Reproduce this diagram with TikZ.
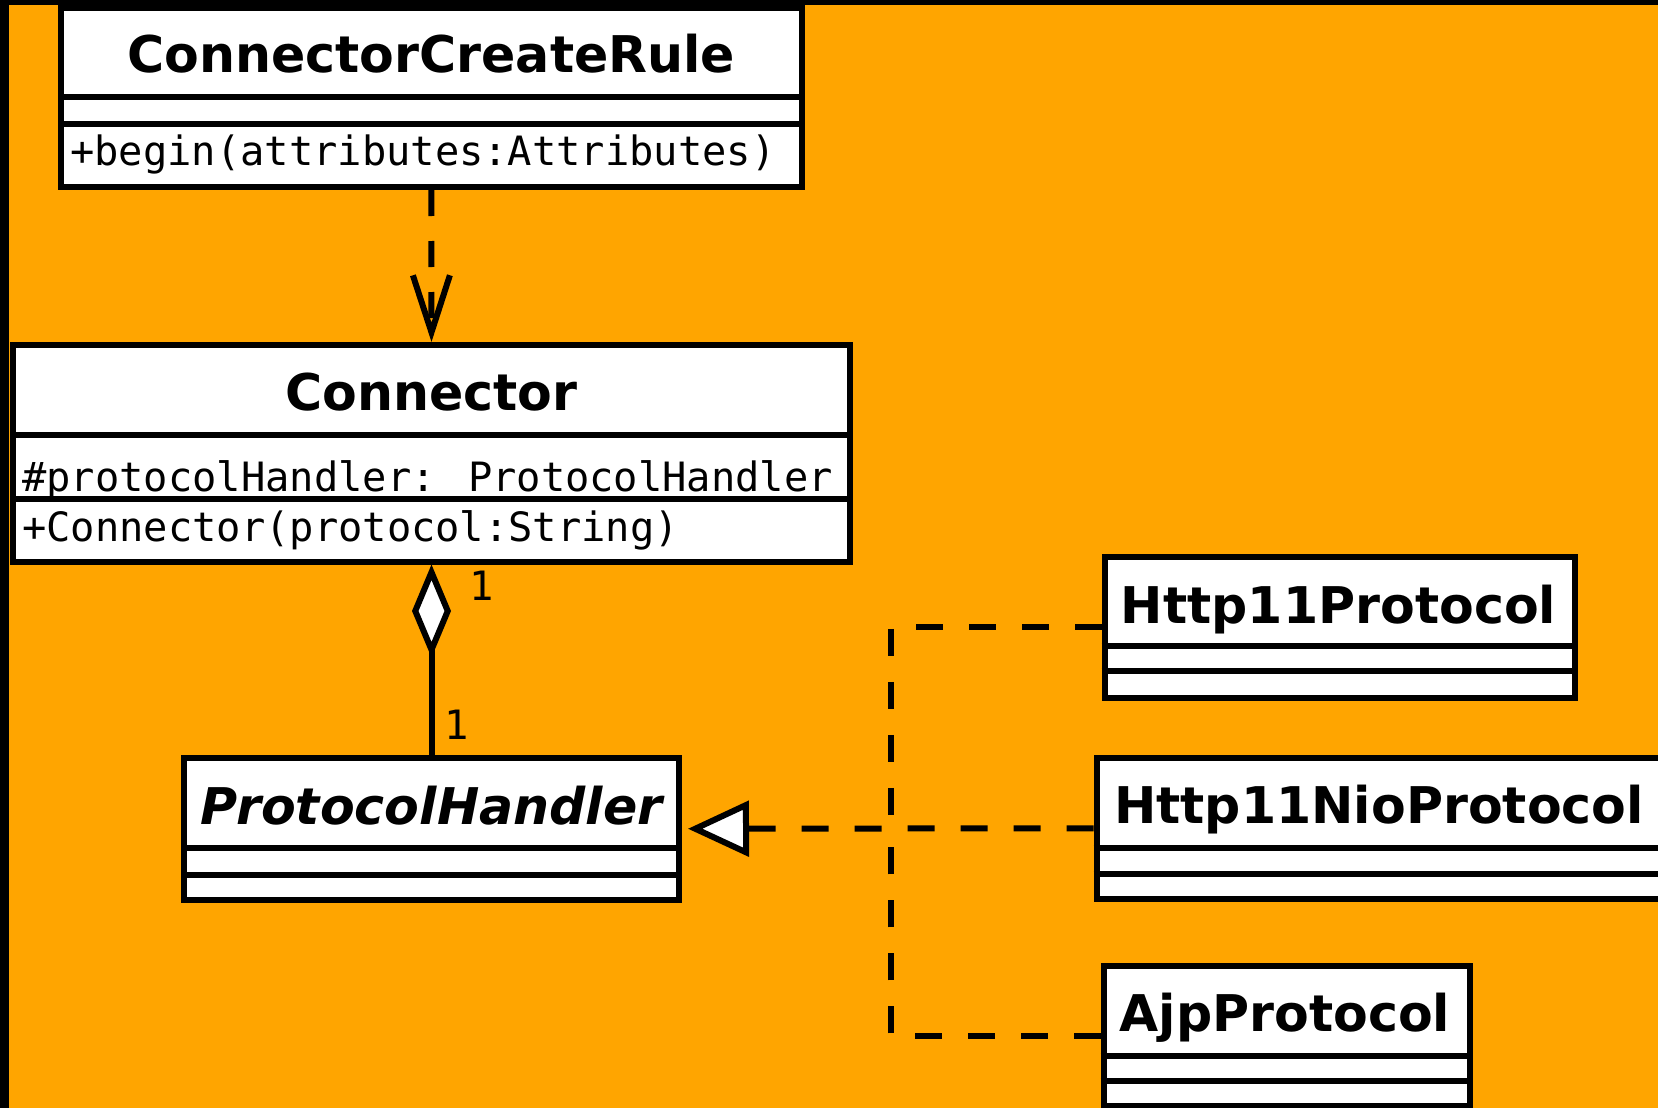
\documentclass[tikz,border=0pt]{standalone}
\usepackage{fontspec}
\setmainfont{DejaVu Sans}
\newfontfamily\umlmono{DejaVu Sans Mono}
\usetikzlibrary{arrows.meta}
\definecolor{bgorange}{RGB}{255,165,0}
\begin{document}
\begin{tikzpicture}[x=1pt,y=-1pt,
  cls/.style={draw=black, fill=white, line width=6pt, inner sep=0pt},
  sepline/.style={draw=black, line width=6pt},
  ttl/.style={font=\fontsize{50.6}{60}\selectfont\bfseries, inner sep=0pt, anchor=base},
  ttlabs/.style={font=\fontsize{50.6}{60}\selectfont\bfseries\itshape, inner sep=0pt, anchor=base},
  mono/.style={font=\umlmono\fontsize{40.4}{48}\selectfont, inner sep=0pt, anchor=base west},
  mult/.style={font=\umlmono\fontsize{40.4}{48}\selectfont, inner sep=0pt, anchor=base},
  dep/.style={draw=black, line width=6pt, dash pattern=on 26pt off 25pt},
  real/.style={draw=black, line width=6pt, dash pattern=on 27pt off 26pt},
  assoc/.style={draw=black, line width=6pt}]
\useasboundingbox (0,0) rectangle (1658,1108);
\clip (0,0) rectangle (1658,1108);
\fill[bgorange] (0,0) rectangle (1658,1108);

% class boxes
\node[cls, minimum width=740.5pt, minimum height=179pt] (ccr) at (431.25,97.5) {};
\node[cls, minimum width=837pt, minimum height=216.5pt] (con) at (431.5,453.25) {};
\node[cls, minimum width=495pt, minimum height=142.5pt] (ph) at (431.5,828.75) {};
\node[cls, minimum width=470.5pt, minimum height=140.5pt] (h11) at (1339.75,627.25) {};
\node[cls, minimum width=565.5pt, minimum height=141.5pt] (nio) at (1379.25,828.25) {};
\node[cls, minimum width=366.5pt, minimum height=139.5pt] (ajp) at (1286.75,1035.75) {};

% texts
\node[ttl] (ccrT) at (431.25,73) {ConnectorCreateRule};
\node[mono] (ccrM) at (70,165) {+begin(attributes:Attributes)};
\node[ttl] (conT) at (431.5,410) {Connector};
\node[mono] (conA) at (22,491) {\#protocolHandler: ProtocolHandler};
\node[mono] (conM) at (22,541) {+Connector(protocol:String)};
\node[ttlabs] (phT) at (431.5,824) {ProtocolHandler};
\node[ttl] (h11T) at (1338.5,623) {Http11Protocol};
\node[ttl] (nioT) at (1379,823) {Http11NioProtocol};
\node[ttl] (ajpT) at (1285,1031) {AjpProtocol};

% compartment separators
\draw[sepline] (ccr.west |- 0,97) -- (ccr.east |- 0,97);
\draw[sepline] (ccr.west |- 0,123.5) -- (ccr.east |- 0,123.5);
\draw[sepline] (con.west |- 0,434.5) -- (con.east |- 0,434.5);
\draw[sepline] (con.west |- 0,498.5) -- (con.east |- 0,498.5);
\draw[sepline] (ph.west |- 0,847.5) -- (ph.east |- 0,847.5);
\draw[sepline] (ph.west |- 0,874.5) -- (ph.east |- 0,874.5);
\draw[sepline] (h11.west |- 0,645.5) -- (h11.east |- 0,645.5);
\draw[sepline] (h11.west |- 0,671) -- (h11.east |- 0,671);
\draw[sepline] (nio.west |- 0,847.5) -- (nio.east |- 0,847.5);
\draw[sepline] (nio.west |- 0,873.5) -- (nio.east |- 0,873.5);
\draw[sepline] (ajp.west |- 0,1056) -- (ajp.east |- 0,1056);
\draw[sepline] (ajp.west |- 0,1081) -- (ajp.east |- 0,1081);

% dependency
\draw[dep, -{Straight Barb[length=57pt, width=37pt]}] (ccr.south) -- (con.north);

% aggregation
\draw[assoc, {Diamond[length=93pt, width=39pt, fill=white]}-] (con.south) -- (ph.north);
\node[mult] (m1) at (481.5,600) {1};
\node[mult] (m2) at (457,739) {1};

% realizations
\coordinate (jn) at (891,828);
\coordinate (tip) at ([xshift=6pt]ph.east);
\draw[real] (h11.west) -| (jn);
\draw[real] (ajp.west) -| (jn);
\draw[real, -{Triangle[length=61pt, width=55pt, fill=white]}] (nio.west) -- (tip);

% black frame (top and left)
\fill[black] (0,0) rectangle (1658,5);
\fill[black] (0,0) rectangle (9,1108);
\end{tikzpicture}
\end{document}
